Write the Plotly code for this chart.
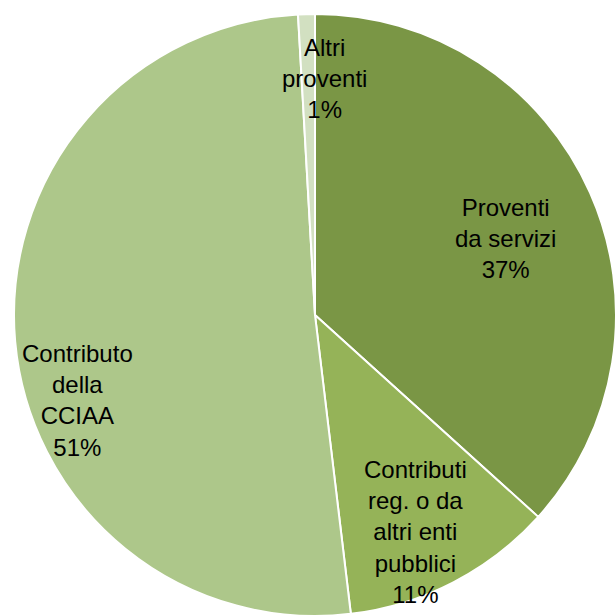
import plotly.graph_objects as go

labels = ["Proventi<br>da servizi", "Contributi<br>reg. o da<br>altri enti<br>pubblici", "Contributo<br>della<br>CCIAA", "Altri<br>proventi"]
values = [36.7, 11.4, 51.0, 0.9]
pct_text = ["37%", "11%", "51%", "1%"]
colors = ["#7A9645", "#95B358", "#ADC78A", "#D2E0C1"]
# label centres (paper fractions), as placed in the reference
label_x = [505/616, 415/616, 78/616, 324/616]
label_y = [1 - 238/616, 1 - 532/616, 1 - 400/616, 1 - 78/616]

fig = go.Figure(go.Pie(
    labels=labels,
    values=values,
    textinfo="none",
    sort=False,
    direction="clockwise",
    rotation=0,
    marker=dict(colors=colors, line=dict(color="white", width=2)),
    showlegend=False,
    hoverinfo="label+percent",
    domain=dict(x=[14/616, 1], y=[0, 1 - 14/616]),
))
for lab, pct, x, y in zip(labels, pct_text, label_x, label_y):
    fig.add_annotation(
        x=x, y=y, xref="paper", yref="paper",
        text=f"{lab}<br>{pct}", showarrow=False,
        xanchor="center", yanchor="middle", align="center",
        font=dict(family="Liberation Sans, Arial", size=24, color="black"),
    )
fig.update_layout(
    width=616, height=616,
    margin=dict(l=0, r=0, t=0, b=0),
    paper_bgcolor="white",
)
fig.write_html("out.html")
